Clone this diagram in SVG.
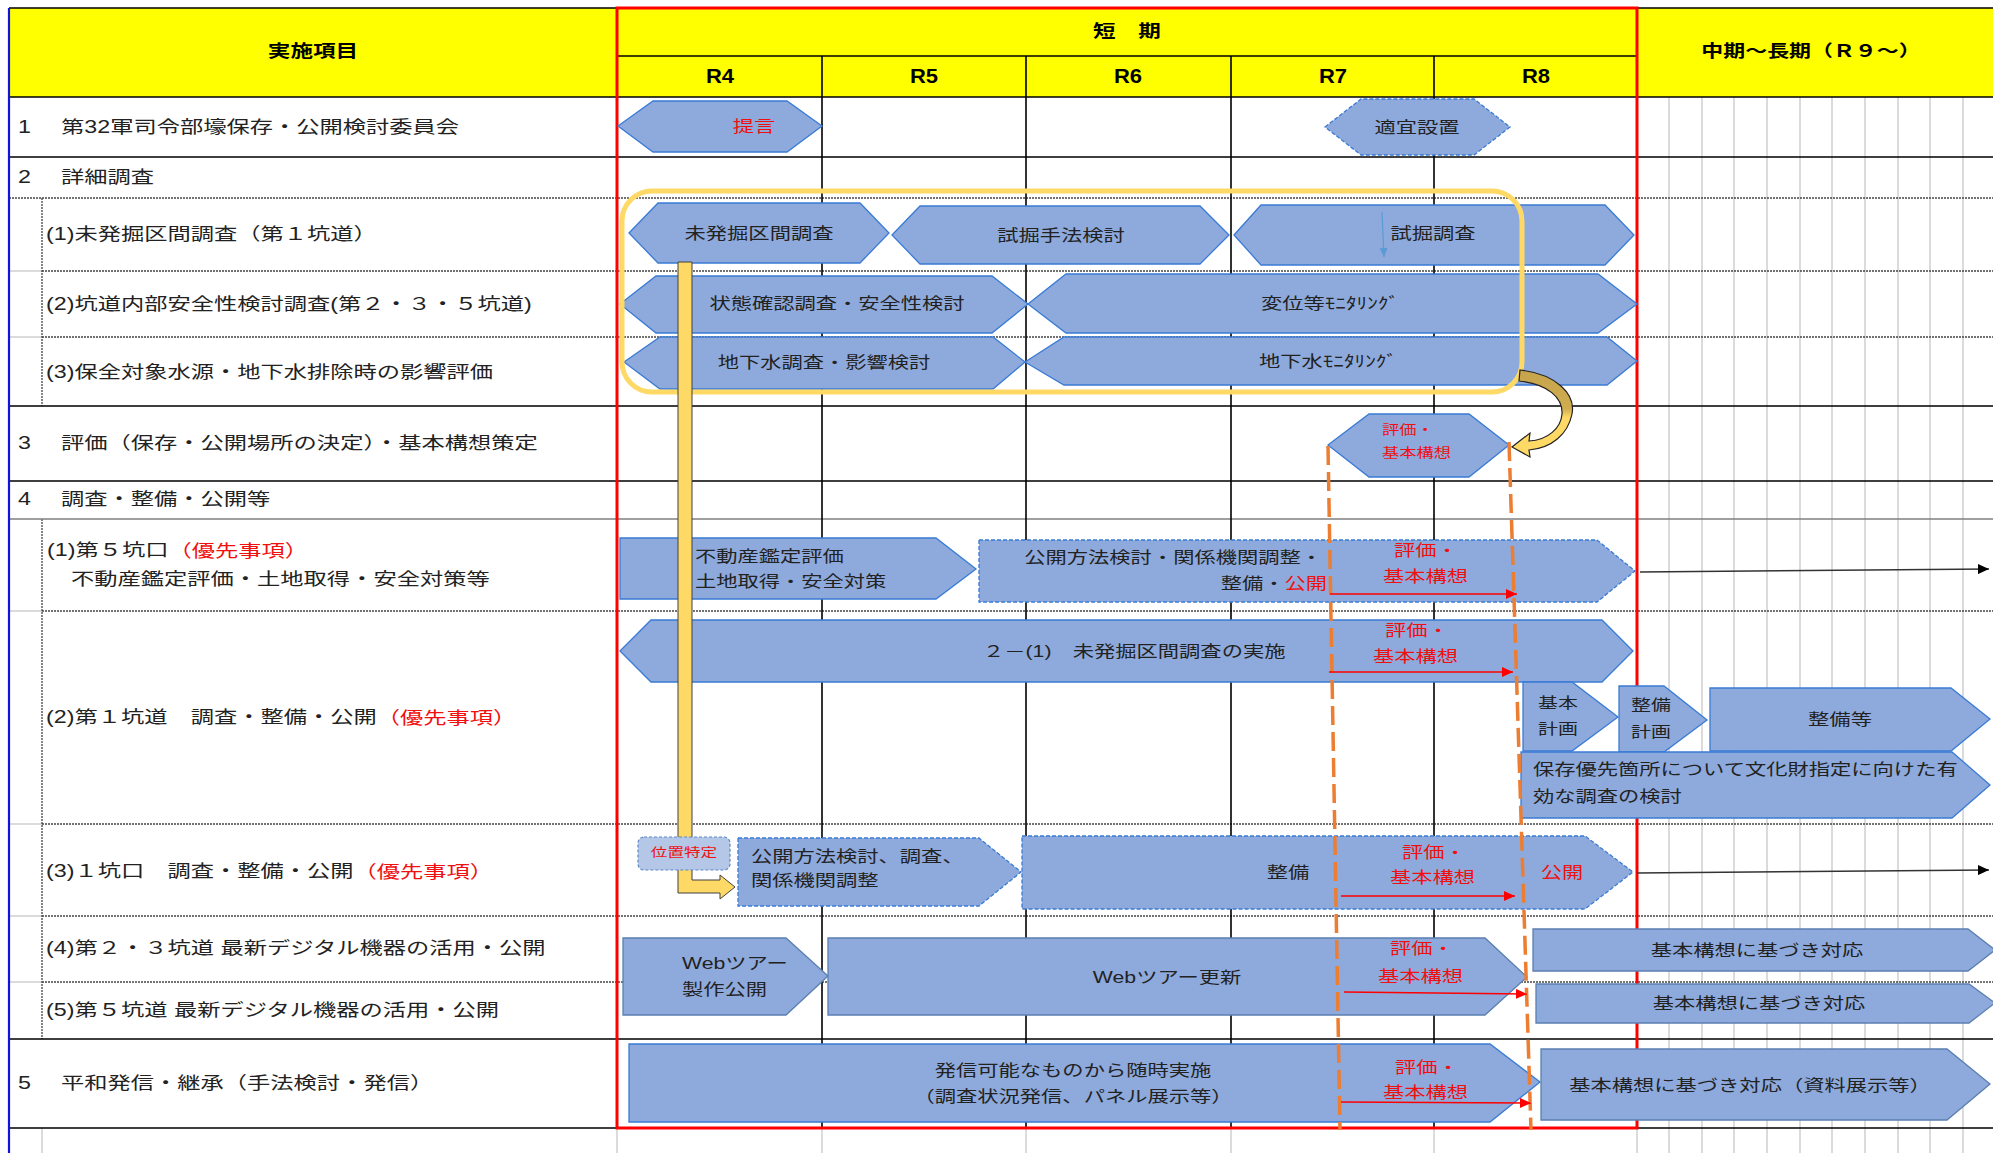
<svg xmlns="http://www.w3.org/2000/svg" width="1993" height="1153" viewBox="0 0 1993 1153">
<style>
text{font-family:"Liberation Sans","Noto Sans CJK JP",sans-serif;dominant-baseline:central;fill:#222}
.t{font-size:17.5px}
.s{font-size:16px}
.sm{font-size:13px}
.xs{font-size:12.5px}
.hb{font-size:17px;font-weight:bold;fill:#000}
.rh{font-size:20px;font-weight:bold;fill:#000}
.red{fill:#f01010}
.mid{text-anchor:middle}
.end{text-anchor:end}
.blk{stroke:#000;stroke-width:1.6;fill:none}
.gry{stroke:#7f7f7f;stroke-width:1.5;fill:none}
.lg{stroke:#d0d0d0;stroke-width:1.5;fill:none}
.dot{stroke:#444;stroke-width:1.3;stroke-dasharray:2 1;fill:none}
.shp{fill:#8eaadc;stroke:#3a7bd5;stroke-width:1.3}
.dsh{fill:#8eaadc;stroke:#3a7bd5;stroke-width:1.3;stroke-dasharray:4 2}
.shg{fill:#8eaadc;stroke:#5b7fb0;stroke-width:1.3}
.org{stroke:#ed7d31;stroke-width:3.5;stroke-dasharray:19 7;fill:none}
.ra{stroke:#f00;stroke-width:1.5;fill:none;marker-end:url(#mr)}
.ka{stroke:#333;stroke-width:1.4;fill:none;marker-end:url(#mk)}
</style>
<defs>
<marker id="mr" markerUnits="userSpaceOnUse" markerWidth="12" markerHeight="10" refX="11" refY="5" orient="auto"><path d="M0,0 L11,5 L0,10 Z" fill="#f00"/></marker>
<marker id="mk" markerUnits="userSpaceOnUse" markerWidth="12" markerHeight="10" refX="11" refY="5" orient="auto"><path d="M0,0 L11,5 L0,10 Z" fill="#000"/></marker>
<marker id="mb" markerUnits="userSpaceOnUse" markerWidth="10" markerHeight="10" refX="9" refY="4" orient="auto"><path d="M0,0 L9,4 L0,8 Z" fill="#5b9bd5"/></marker>
<linearGradient id="gold" gradientUnits="userSpaceOnUse" x1="0" y1="368" x2="0" y2="458"><stop offset="0" stop-color="#c6a44c"/><stop offset="0.45" stop-color="#cfac4f"/><stop offset="0.55" stop-color="#ffd966"/><stop offset="1" stop-color="#ffd966"/></linearGradient>
</defs>
<rect width="1993" height="1153" fill="#fff"/>
<g id="grid">
<rect x="9" y="8" width="1984" height="89" fill="#ffff00"/>
<path class="lg" d="M1669,97V1153M1702,97V1153M1734,97V1153M1767,97V1153M1800,97V1153M1832,97V1153M1865,97V1153M1898,97V1153M1930,97V1153M1963,97V1153"/>
<path class="lg" d="M42,1128V1153M617,1128V1153M822,1128V1153M1026,1128V1153M1231,1128V1153M1434,1128V1153M1637,1128V1153"/>
<path class="lg" d="M9,271H42M9,337H42M9,611H42M9,824H42M9,916H42M9,982H42"/>
<path class="dot" d="M9,198H1993M42,271H1993M42,337H1993M42,611H1993M42,824H1993M42,916H1993M42,982H1993M42,198V406M42,519V1039"/>
<path class="gry" d="M9,519H1993"/>
<path class="blk" d="M9,8H1993M617,56H1637M9,97H1993M9,157H1993M9,406H1993M9,481H1993M9,1039H1993M9,1128H1993"/>
<path class="blk" d="M822,56V1128M1026,56V1128M1231,56V1128M1434,56V1128"/>
<path d="M9,8V1153" stroke="#1414d8" stroke-width="2.2"/>
<rect x="617" y="8" width="1020" height="1120" fill="none" stroke="#ff0000" stroke-width="3"/>
</g>
<g id="header">
<text class="hb mid" transform="translate(313,51) scale(1.33,1)">実施項目</text>
<text class="hb mid" transform="translate(1127,31) scale(1.33,1)">短　期</text>
<text class="rh mid" transform="translate(720,76) scale(1.1,1)">R4</text>
<text class="rh mid" transform="translate(924,76) scale(1.1,1)">R5</text>
<text class="rh mid" transform="translate(1128,76) scale(1.1,1)">R6</text>
<text class="rh mid" transform="translate(1333,76) scale(1.1,1)">R7</text>
<text class="rh mid" transform="translate(1536,76) scale(1.1,1)">R8</text>
<text class="hb mid" style="font-size:16.5px" transform="translate(1811,51) scale(1.33,1)">中期～長期（Ｒ９～）</text>
</g>
<g id="labels">
<text class="t" transform="translate(18,127) scale(1.33,1)">1</text>
<text class="t" transform="translate(61,127) scale(1.33,1)">第32軍司令部壕保存・公開検討委員会</text>
<text class="t" transform="translate(18,177) scale(1.33,1)">2</text>
<text class="t" transform="translate(61,177) scale(1.33,1)">詳細調査</text>
<text class="t" transform="translate(46,234) scale(1.33,1)">(1)未発掘区間調査（第１坑道）</text>
<text class="t" transform="translate(46,304) scale(1.33,1)">(2)坑道内部安全性検討調査(第２・３・５坑道)</text>
<text class="t" transform="translate(46,372) scale(1.33,1)">(3)保全対象水源・地下水排除時の影響評価</text>
<text class="t" transform="translate(18,443) scale(1.33,1)">3</text>
<text class="t" transform="translate(61,443) scale(1.33,1)">評価（保存・公開場所の決定）・基本構想策定</text>
<text class="t" transform="translate(18,499) scale(1.33,1)">4</text>
<text class="t" transform="translate(61,499) scale(1.33,1)">調査・整備・公開等</text>
<text class="t" transform="translate(47,550) scale(1.33,1)">(1)第５坑口<tspan class="red">（優先事項）</tspan></text>
<text class="t" transform="translate(71,579) scale(1.33,1)">不動産鑑定評価・土地取得・安全対策等</text>
<text class="t" transform="translate(46,717) scale(1.33,1)">(2)第１坑道　調査・整備・公開<tspan class="red">（優先事項）</tspan></text>
<text class="t" transform="translate(46,871) scale(1.33,1)">(3)１坑口　調査・整備・公開<tspan class="red">（優先事項）</tspan></text>
<text class="t" transform="translate(46,948) scale(1.33,1)">(4)第２・３坑道 最新デジタル機器の活用・公開</text>
<text class="t" transform="translate(46,1010) scale(1.33,1)">(5)第５坑道 最新デジタル機器の活用・公開</text>
<text class="t" transform="translate(18,1083) scale(1.33,1)">5</text>
<text class="t" transform="translate(61,1083) scale(1.33,1)">平和発信・継承（手法検討・発信）</text>
</g>
<g id="n-teigen"><polygon class="shp" points="618,126 653,101 787,101 822,126 787,152 653,152"/><text class="s mid red" transform="translate(754,126) scale(1.33,1)">提言</text></g>
<g id="n-tekigi"><polygon class="dsh" points="1325,127 1361,99 1474,99 1510,127 1474,155 1361,155"/><text class="s mid" transform="translate(1417,127) scale(1.33,1)">適宜設置</text></g>
<g id="n-mihakkutsu"><polygon class="shp" points="629,233 658,203 860,203 889,233 860,263 658,263"/><text class="s mid" transform="translate(759,233) scale(1.33,1)">未発掘区間調査</text></g>
<g id="n-shikutsu-shuho"><polygon class="shp" points="892,235 920,206 1200,206 1229,235 1200,264 920,264"/><text class="s mid" transform="translate(1061,235) scale(1.33,1)">試掘手法検討</text></g>
<g id="n-shikutsu"><polygon class="shp" points="1234,235 1261,205 1605,205 1634,235 1605,265 1261,265"/><text class="s mid" transform="translate(1433,233) scale(1.33,1)">試掘調査</text></g>
<g id="n-jotai"><polygon class="shp" points="620,304 656,276 992,276 1028,304 992,333 656,333"/><text class="s mid" transform="translate(837,303) scale(1.33,1)">状態確認調査・安全性検討</text></g>
<g id="n-hen-i"><polygon class="shp" points="1028,304 1066,274 1598,274 1637,304 1598,333 1066,333"/><text class="s mid" transform="translate(1330,303) scale(1.33,1)">変位等ﾓﾆﾀﾘﾝｸﾞ</text></g>
<g id="n-chikasui"><polygon class="shp" points="624,362 660,337 993,337 1025,362 993,389 660,389"/><text class="s mid" transform="translate(824,362) scale(1.33,1)">地下水調査・影響検討</text></g>
<g id="n-chikasui-mon"><polygon class="shp" points="1025,362 1064,337 1607,337 1637,361 1607,385 1064,385"/><text class="s mid" transform="translate(1328,361) scale(1.33,1)">地下水ﾓﾆﾀﾘﾝｸﾞ</text></g>
<g id="n-hyoka3"><polygon class="shp" points="1328,445 1369,414 1469,414 1509,445 1469,477 1369,477"/><text class="sm red" transform="translate(1382,429) scale(1.33,1)">評価・</text><text class="sm red" transform="translate(1382,452) scale(1.33,1)">基本構想</text></g>
<g id="n-fudosan"><polygon class="shp" points="620,538 936,538 976,569 936,599 620,599"/><text class="s" transform="translate(695,556) scale(1.33,1)">不動産鑑定評価</text><text class="s" transform="translate(695,581) scale(1.33,1)">土地取得・安全対策</text></g>
<g id="n-kokai5"><polygon class="dsh" points="979,540 1597,540 1635,571 1597,602 979,602"/><text class="s end" transform="translate(1322,557) scale(1.33,1)">公開方法検討・関係機関調整・</text><text class="s end" transform="translate(1327,583) scale(1.33,1)">整備・<tspan class="red">公開</tspan></text><text class="s red" transform="translate(1394,550) scale(1.33,1)">評価・</text><text class="s red" transform="translate(1383,576) scale(1.33,1)">基本構想</text></g>
<g id="n-mihakkutsu-jisshi"><polygon class="shp" points="620,651 651,620 1602,620 1633,651 1602,682 651,682"/><text class="s" transform="translate(983,651) scale(1.33,1)">２－(1)　未発掘区間調査の実施</text><text class="s red" transform="translate(1385,630) scale(1.33,1)">評価・</text><text class="s red" transform="translate(1373,656) scale(1.33,1)">基本構想</text></g>
<g id="n-kihonkeikaku"><polygon class="shp" points="1523,682 1572,682 1618,717 1572,751 1523,751"/><text class="s" style="font-size:15px" transform="translate(1538,703) scale(1.33,1)">基本</text><text class="s" style="font-size:15px" transform="translate(1538,729) scale(1.33,1)">計画</text></g>
<g id="n-seibikeikaku"><polygon class="shp" points="1619,686 1664,686 1707,720 1664,752 1619,752"/><text class="s" style="font-size:15px" transform="translate(1631,705) scale(1.33,1)">整備</text><text class="s" style="font-size:15px" transform="translate(1631,732) scale(1.33,1)">計画</text></g>
<g id="n-seibito"><polygon class="shp" points="1710,688 1951,688 1990,719 1951,751 1710,751"/><text class="s mid" transform="translate(1840,719) scale(1.33,1)">整備等</text></g>
<g id="n-hozon"><polygon class="shp" points="1521,752 1952,752 1990,785 1952,818 1521,818"/><text class="s" transform="translate(1533,769) scale(1.33,1)">保存優先箇所について文化財指定に向けた有</text><text class="s" transform="translate(1533,796) scale(1.33,1)">効な調査の検討</text></g>
<g id="n-kokai1"><polygon class="dsh" points="738,838 979,838 1021,872 979,906 738,906"/><text class="s" transform="translate(751,856) scale(1.33,1)">公開方法検討、調査、</text><text class="s" transform="translate(751,880) scale(1.33,1)">関係機関調整</text></g>
<g id="n-seibi1"><polygon class="dsh" points="1022,836 1585,836 1633,872 1585,909 1022,909"/><text class="s mid" transform="translate(1288,872) scale(1.33,1)">整備</text><text class="s red" transform="translate(1402,852) scale(1.33,1)">評価・</text><text class="s red" transform="translate(1390,877) scale(1.33,1)">基本構想</text><text class="s mid red" transform="translate(1562,872) scale(1.33,1)">公開</text></g>
<g id="n-web1"><polygon class="shg" points="623,938 786,938 828,976 786,1015 623,1015"/><text class="s" transform="translate(682,963) scale(1.33,1)">Webツアー</text><text class="s" transform="translate(682,989) scale(1.33,1)">製作公開</text></g>
<g id="n-web2"><polygon class="shg" points="828,938 1485,938 1527,977 1485,1015 828,1015"/><text class="s mid" transform="translate(1167,977) scale(1.33,1)">Webツアー更新</text><text class="s red" transform="translate(1390,948) scale(1.33,1)">評価・</text><text class="s red" transform="translate(1378,976) scale(1.33,1)">基本構想</text></g>
<g id="n-taio4"><polygon class="shg" points="1533,929 1968,929 1995,950 1968,971 1533,971"/><text class="s mid" transform="translate(1757,950) scale(1.33,1)">基本構想に基づき対応</text></g>
<g id="n-taio5"><polygon class="shg" points="1536,984 1969,984 1995,1003 1969,1023 1536,1023"/><text class="s mid" transform="translate(1759,1003) scale(1.33,1)">基本構想に基づき対応</text></g>
<g id="n-hasshin"><polygon class="shp" points="629,1044 1490,1044 1540,1082 1490,1122 629,1122"/><text class="s mid" transform="translate(1073,1070) scale(1.33,1)">発信可能なものから随時実施</text><text class="s mid" transform="translate(1073,1096) scale(1.33,1)">（調査状況発信、パネル展示等）</text><text class="s red" transform="translate(1395,1067) scale(1.33,1)">評価・</text><text class="s red" transform="translate(1383,1092) scale(1.33,1)">基本構想</text></g>
<g id="n-shiryo"><polygon class="shg" points="1541,1049 1947,1049 1990,1084 1947,1120 1541,1120"/><text class="s mid" transform="translate(1750,1085) scale(1.33,1)">基本構想に基づき対応（資料展示等）</text></g>
<g id="n-group2"><rect x="622" y="191" width="900" height="201" rx="30" fill="none" stroke="#ffd966" stroke-width="5"/></g>
<g id="n-ichi">
<path d="M678,262H692V880H720V875L735,887L720,899V893H678Z" fill="#ffd966" stroke="#404040" stroke-width="1"/>
<rect x="638" y="837" width="92" height="33" rx="6" fill="#b4c7e7" stroke="#5b87c8" stroke-width="1.2" stroke-dasharray="3 2"/>
<text class="xs mid red" transform="translate(684,853) scale(1.33,1)">位置特定</text>
</g>
<g id="connectors">
<path d="M1520,370C1556,374 1576,394 1572,414C1568,434 1552,448 1529,450L1530,457L1512,447L1530,433L1529,441C1548,440 1561,428 1562,414C1563,398 1548,384 1519,381Z" fill="url(#gold)" stroke="#222" stroke-width="1.2"/>
<path class="org" d="M1328,446L1340,1130"/>
<path class="org" d="M1509,442L1531,1130"/>
<path class="ra" d="M1330,594H1517"/>
<path class="ra" d="M1329,672H1513"/>
<path class="ra" d="M1341,896H1515"/>
<path class="ra" d="M1344,992L1527,994"/>
<path class="ra" d="M1341,1102L1531,1103"/>
<path class="ka" d="M1640,572L1989,569"/>
<path class="ka" d="M1637,873L1989,870"/>
<path d="M1382,212L1384,257" stroke="#5b9bd5" stroke-width="1.2" fill="none" marker-end="url(#mb)"/>
</g>
</svg>
